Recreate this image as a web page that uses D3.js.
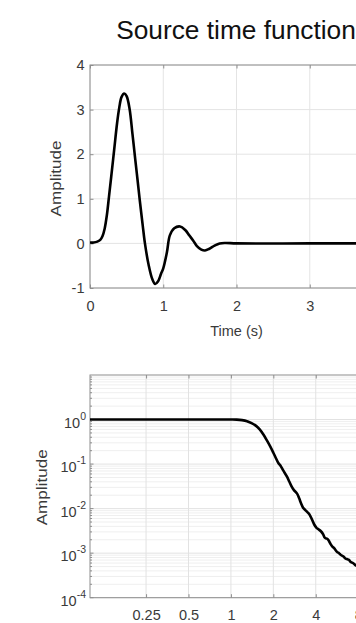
<!DOCTYPE html>
<html>
<head>
<meta charset="utf-8">
<script src="https://cdn.jsdelivr.net/npm/d3@7"></script>
<style>
  body { margin: 0; background: #fff; }
  svg { display: block; }
  text { font-family: "Liberation Sans", Arial, sans-serif; }
</style>
</head>
<body>
<svg id="chart" width="356" height="623"></svg>
<script>
// source time function (time in s, amplitude)
const timeS = [0, 0.05, 0.10, 0.14, 0.17, 0.20, 0.23, 0.26, 0.29, 0.33, 0.37, 0.40, 0.43, 0.467, 0.50, 0.54,
  0.58, 0.62, 0.65, 0.68, 0.72, 0.75, 0.80, 0.85, 0.89, 0.93, 0.97, 1.00, 1.05, 1.09, 1.15, 1.23,
  1.30, 1.36, 1.41, 1.46, 1.52, 1.57, 1.63, 1.70, 1.77, 1.85, 2.00, 3.00, 4.00];
const stfAmp = [0.02, 0.02, 0.04, 0.08, 0.16, 0.33, 0.63, 1.06, 1.50, 2.10, 2.70, 3.05, 3.28, 3.36, 3.30, 3.02,
  2.45, 1.85, 1.41, 0.96, 0.40, 0.00, -0.48, -0.80, -0.91, -0.85, -0.68, -0.56, -0.20, 0.18, 0.34, 0.38,
  0.30, 0.17, 0.06, -0.06, -0.14, -0.16, -0.12, -0.05, 0.00, 0.01, 0.00, 0.00, 0.00];

// amplitude spectrum (frequency in Hz, amplitude)
const freqHz = [0.1, 0.5, 0.8, 1.0, 1.1, 1.2, 1.3, 1.4, 1.5, 1.6, 1.7, 1.8, 1.9, 2.0, 2.1, 2.17, 2.25,
  2.35, 2.5, 2.6, 2.7, 2.8, 2.94, 3.05, 3.15, 3.25, 3.37, 3.5, 3.6, 3.75, 3.9, 4.05, 4.2, 4.35, 4.5,
  4.65, 4.82, 4.95, 5.1, 5.25, 5.4, 5.55, 5.7, 5.85, 6.0, 6.15, 6.32, 6.5, 6.7, 6.87, 7.05, 7.25,
  7.45, 7.7, 8.0, 9.0, 10.5, 12.0];
const specAmp = [1.0, 1.0, 1.0, 1.0, 0.995, 0.97, 0.92, 0.83, 0.73, 0.60, 0.46, 0.34, 0.25, 0.18, 0.13,
  0.106, 0.092, 0.072, 0.052, 0.040, 0.031, 0.026, 0.022, 0.017, 0.013, 0.0105, 0.0093, 0.0082, 0.0075,
  0.0058, 0.0044, 0.0037, 0.0034, 0.0031, 0.0027, 0.0022, 0.0021, 0.0019, 0.0016, 0.0014, 0.0013,
  0.00115, 0.00105, 0.0010, 0.00092, 0.00088, 0.00083, 0.00076, 0.00073, 0.00071, 0.00064, 0.00061,
  0.00058, 0.00053, 0.0005, 0.0004, 0.0003, 0.00024];

const timeTicks = [0, 1, 2, 3, 4];
const ampTicks = [-1, 0, 1, 2, 3, 4];
const freqTicks = [0.25, 0.5, 1, 2, 4, 8];
const decadeExps = [-4, -3, -2, -1, 0];

const svg = d3.select('#chart');
const axisColor = '#8e8e8e';
const labelColor = '#3a3a3a';
const tickLen = 3.5;

// title
svg.append('text')
  .attr('x', 236)
  .attr('y', 39)
  .attr('text-anchor', 'middle')
  .attr('font-size', '26.3px')
  .attr('fill', '#111')
  .text('Source time function');

// ---------- top panel: time function ----------
const panelT = { left: 90, right: 383, top: 65, bottom: 288 };
const xT = d3.scaleLinear().domain([0, 4]).range([panelT.left, panelT.right]);
const yT = d3.scaleLinear().domain([-1, 4]).range([panelT.bottom, panelT.top]);

const gT = svg.append('g');

gT.selectAll('.vgrid')
  .data(timeTicks)
  .join('line')
  .attr('x1', d => xT(d)).attr('x2', d => xT(d))
  .attr('y1', panelT.top).attr('y2', panelT.bottom)
  .attr('stroke', '#e4e4e4');

gT.selectAll('.hgrid')
  .data(ampTicks)
  .join('line')
  .attr('y1', d => yT(d)).attr('y2', d => yT(d))
  .attr('x1', panelT.left).attr('x2', panelT.right)
  .attr('stroke', '#e4e4e4');

gT.append('g')
  .attr('transform', `translate(0,${panelT.bottom})`)
  .call(d3.axisBottom(xT).tickValues(timeTicks).tickSize(-tickLen).tickSizeOuter(0)
    .tickPadding(12.5).tickFormat(d => String(d)));

gT.append('g')
  .attr('transform', `translate(0,${panelT.top})`)
  .call(d3.axisTop(xT).tickValues(timeTicks).tickSize(-tickLen).tickSizeOuter(0).tickFormat(''));

gT.append('g')
  .attr('transform', `translate(${panelT.left},0)`)
  .call(d3.axisLeft(yT).tickValues(ampTicks).tickSize(-tickLen).tickSizeOuter(0)
    .tickPadding(5.5).tickFormat(d => String(d)));

gT.append('rect')
  .attr('x', panelT.left).attr('y', panelT.top)
  .attr('width', panelT.right - panelT.left).attr('height', panelT.bottom - panelT.top)
  .attr('fill', 'none').attr('stroke', axisColor);

svg.append('clipPath').attr('id', 'clipTop')
  .append('rect')
  .attr('x', panelT.left).attr('y', panelT.top)
  .attr('width', panelT.right - panelT.left).attr('height', panelT.bottom - panelT.top);

const lineT = d3.line()
  .x((d, i) => xT(timeS[i]))
  .y(d => yT(d))
  .curve(d3.curveCatmullRom.alpha(0.5));

gT.append('path')
  .datum(stfAmp)
  .attr('clip-path', 'url(#clipTop)')
  .attr('d', lineT)
  .attr('fill', 'none')
  .attr('stroke', '#000')
  .attr('stroke-width', 2.6)
  .attr('stroke-linejoin', 'round');

gT.append('text')
  .attr('x', 236.5).attr('y', 335.5)
  .attr('text-anchor', 'middle')
  .attr('font-size', '14.5px')
  .attr('fill', labelColor)
  .text('Time (s)');

gT.append('text')
  .attr('transform', `translate(60.5,${(panelT.top + panelT.bottom) / 2 + 2}) rotate(-90)`)
  .attr('text-anchor', 'middle')
  .attr('font-size', '14.5px')
  .attr('textLength', 76)
  .attr('lengthAdjust', 'spacingAndGlyphs')
  .attr('fill', labelColor)
  .text('Amplitude');

// ---------- bottom panel: spectrum ----------
const panelB = { left: 90, right: 383, top: 375, bottom: 597.7 };
const xB = d3.scaleLog().domain([0.1, 12]).range([panelB.left, panelB.right]);
const yB = d3.scaleLog().domain([1e-4, 10]).range([panelB.bottom, panelB.top]);

const gB = svg.append('g');

// minor y positions 2..9 x 10^k
const minorY = [];
decadeExps.forEach(k => {
  for (let m = 2; m <= 9; m++) minorY.push(m * Math.pow(10, k));
});
const majorY = decadeExps.map(k => Math.pow(10, k));

gB.selectAll('.minor')
  .data(minorY)
  .join('line')
  .attr('y1', d => yB(d)).attr('y2', d => yB(d))
  .attr('x1', panelB.left).attr('x2', panelB.right)
  .attr('stroke', '#efefef');

gB.selectAll('.major')
  .data(majorY)
  .join('line')
  .attr('y1', d => yB(d)).attr('y2', d => yB(d))
  .attr('x1', panelB.left).attr('x2', panelB.right)
  .attr('stroke', '#e2e2e2');

gB.selectAll('.vgrid')
  .data(freqTicks)
  .join('line')
  .attr('x1', d => xB(d)).attr('x2', d => xB(d))
  .attr('y1', panelB.top).attr('y2', panelB.bottom)
  .attr('stroke', '#e2e2e2');

gB.append('g')
  .attr('transform', `translate(0,${panelB.bottom})`)
  .call(d3.axisBottom(xB).tickValues(freqTicks).tickSize(-tickLen).tickSizeOuter(0)
    .tickPadding(12.5).tickFormat(d => String(d)));

gB.append('g')
  .attr('transform', `translate(0,${panelB.top})`)
  .call(d3.axisTop(xB).tickValues(freqTicks).tickSize(-tickLen).tickSizeOuter(0).tickFormat(''));

// left ticks, major and minor
gB.selectAll('.ytick')
  .data(majorY)
  .join('line')
  .attr('x1', panelB.left).attr('x2', panelB.left + tickLen)
  .attr('y1', d => yB(d)).attr('y2', d => yB(d))
  .attr('stroke', axisColor);

gB.selectAll('.ytickm')
  .data(minorY)
  .join('line')
  .attr('x1', panelB.left).attr('x2', panelB.left + 2)
  .attr('y1', d => yB(d)).attr('y2', d => yB(d))
  .attr('stroke', axisColor);

const yLab = gB.selectAll('.ylab')
  .data(decadeExps)
  .join('text')
  .attr('x', 86)
  .attr('y', d => yB(Math.pow(10, d)) + 8)
  .attr('text-anchor', 'end')
  .attr('fill', labelColor)
  .attr('font-size', '14.5px');

yLab.append('tspan').text('10');
yLab.append('tspan')
  .attr('dy', -8)
  .attr('font-size', '10.5px')
  .text(d => String(d));

gB.append('rect')
  .attr('x', panelB.left).attr('y', panelB.top)
  .attr('width', panelB.right - panelB.left).attr('height', panelB.bottom - panelB.top)
  .attr('fill', 'none').attr('stroke', axisColor);

svg.append('clipPath').attr('id', 'clipBot')
  .append('rect')
  .attr('x', panelB.left).attr('y', panelB.top)
  .attr('width', panelB.right - panelB.left).attr('height', panelB.bottom - panelB.top);

const lineB = d3.line()
  .x((d, i) => xB(freqHz[i]))
  .y(d => yB(d))
  .curve(d3.curveCatmullRom.alpha(0.5));

gB.append('path')
  .datum(specAmp)
  .attr('clip-path', 'url(#clipBot)')
  .attr('d', lineB)
  .attr('fill', 'none')
  .attr('stroke', '#000')
  .attr('stroke-width', 2.6)
  .attr('stroke-linejoin', 'round');

gB.append('text')
  .attr('transform', `translate(47,${(panelB.top + panelB.bottom) / 2 + 1}) rotate(-90)`)
  .attr('text-anchor', 'middle')
  .attr('font-size', '14.5px')
  .attr('textLength', 76)
  .attr('lengthAdjust', 'spacingAndGlyphs')
  .attr('fill', labelColor)
  .text('Amplitude');

// style the d3 axes like the reference
svg.selectAll('.domain').remove();
svg.selectAll('.tick line').attr('stroke', axisColor);
svg.selectAll('.tick text')
  .attr('fill', labelColor)
  .attr('font-size', '14.5px')
  .attr('font-family', '"Liberation Sans", Arial, sans-serif');
</script>
</body>
</html>
